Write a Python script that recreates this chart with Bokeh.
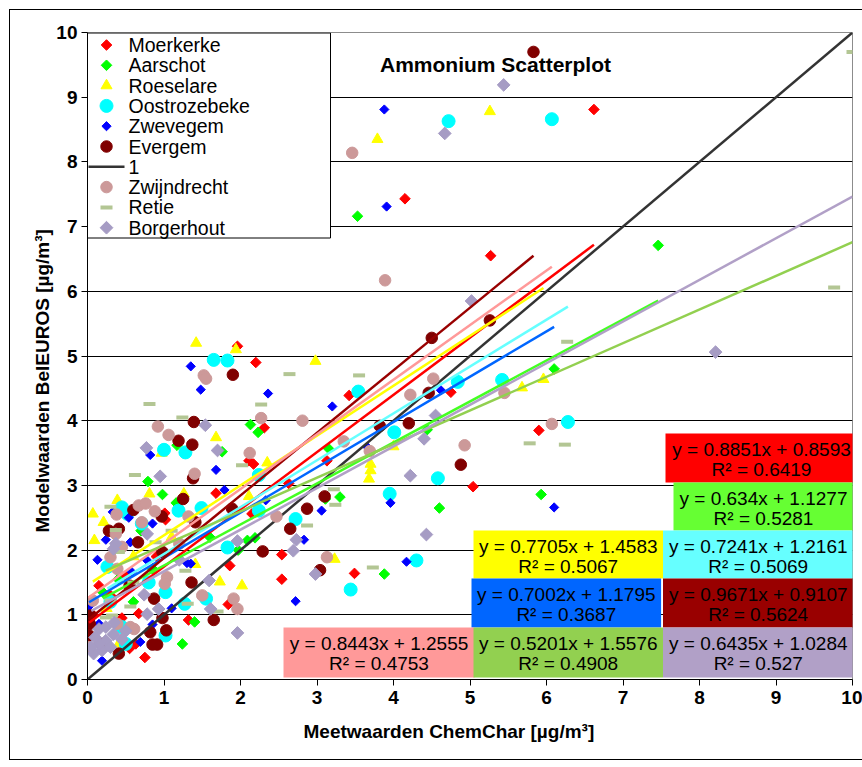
import numpy as np
from bokeh.plotting import figure
from bokeh.models import (Range1d, Label, FixedTicker, Title, ColumnDataSource,
                          InlineStyleSheet)
from bokeh.core.properties import value
from bokeh.embed import file_html
from bokeh.resources import INLINE

# ---------------- data ----------------
series_names = ["Moerkerke", "Aarschot", "Roeselare", "Oostrozebeke", "Zwevegem",
                "Evergem", "Zwijndrecht", "Retie", "Borgerhout"]
identity_name = "1"

moerkerke_x = [6.62, 4.15, 5.27, 1.96, 2.20, 4.75, 3.42, 2.31, 5.90, 2.11, 2.17, 3.13, 5.04, 1.68,
               2.63, 1.01, 2.15, 2.54, 1.86, 2.54, 3.49, 1.84, 1.32, 0.67, 0.63, 0.75, 0.02, 0.07,
               0.55, 1.02, 0.30, 0.50, 0.15, 0.90, 0.45]
moerkerke_y = [8.81, 7.43, 6.55, 5.15, 4.90, 4.44, 4.39, 3.89, 3.85, 3.38, 3.33, 3.38, 2.98, 2.88,
               3.03, 2.57, 2.56, 1.93, 1.76, 1.55, 1.64, 1.16, 0.92, 1.02, 0.55, 0.34, 0.91, 1.00,
               0.48, 2.47, 1.30, 1.60, 1.45, 1.90, 0.95]

aarschot_x = [3.53, 7.46, 6.10, 4.44, 5.93, 4.60, 3.15, 3.30, 3.88, 2.13, 2.23, 1.76, 1.17, 0.79,
              0.98, 1.16, 2.19, 2.09, 1.97, 0.85, 1.40, 1.24, 3.11, 0.40, 0.60, 0.20, 1.60, 0.70]
aarschot_y = [7.16, 6.71, 4.80, 3.86, 2.86, 2.65, 3.57, 2.82, 1.63, 3.94, 3.82, 3.52, 3.62, 3.06,
              2.86, 2.73, 2.19, 2.15, 2.00, 1.71, 0.89, 0.55, 2.79, 1.55, 1.20, 1.35, 2.20, 2.30]

roeselare_x = [5.26, 3.79, 1.42, 2.98, 1.94, 1.68, 0.97, 2.35, 4.00, 3.70, 3.70, 3.68, 5.96, 5.68,
               0.81, 0.39, 1.26, 0.07, 0.21, 0.09, 2.11, 1.73, 2.02, 1.41, 3.23, 0.41, 0.60, 0.25, 1.10]
roeselare_y = [8.78, 8.35, 5.20, 4.92, 5.10, 3.74, 3.50, 3.35, 3.60, 3.33, 3.23, 3.10, 4.64, 4.51,
               2.87, 2.77, 2.87, 2.56, 2.43, 2.15, 2.83, 1.51, 1.45, 1.78, 1.86, 0.55, 1.90, 1.10, 2.20]

oostrozebeke_x = [4.72, 6.07, 1.65, 1.83, 1.00, 1.28, 5.42, 4.84, 3.54, 4.01, 4.58, 6.28, 3.95, 4.30,
                  3.44, 2.24, 2.24, 2.72, 1.19, 1.49, 1.83, 1.55, 1.02, 1.27, 0.45, 0.52, 0.71, 0.26,
                  0.45, 1.02, 0.50, 0.80, 0.30]
oostrozebeke_y = [8.63, 8.66, 4.94, 4.93, 3.55, 3.51, 4.63, 4.60, 4.45, 3.82, 3.11, 3.98, 2.87, 1.84,
                  1.39, 3.16, 2.61, 2.48, 2.61, 2.65, 2.04, 1.25, 1.35, 1.17, 2.66, 2.56, 2.41, 1.74,
                  0.81, 0.68, 0.55, 1.50, 1.20]

zwevegem_x = [3.88, 3.91, 1.35, 1.48, 2.36, 3.20, 0.82, 1.68, 4.62, 3.66, 3.96, 3.06, 4.17, 6.10,
              2.72, 2.83, 1.79, 2.33, 1.35, 0.33, 0.54, 0.85, 0.24, 0.56, 0.13, 0.78, 0.58, 1.30,
              0.02, 0.15, 0.85, 0.69, 0.19, 1.10]
zwevegem_y = [8.81, 7.31, 4.84, 4.48, 4.42, 4.22, 3.47, 3.24, 4.47, 3.59, 2.73, 2.61, 1.82, 2.66,
              1.21, 2.16, 2.93, 2.77, 1.79, 2.59, 2.50, 2.41, 2.16, 2.12, 1.85, 1.84, 1.66, 1.80,
              1.13, 0.86, 0.85, 0.58, 0.29, 1.10]

evergem_x = [5.83, 5.26, 4.50, 4.46, 4.20, 3.82, 4.88, 3.10, 1.90, 1.39, 1.19, 1.37, 1.38, 2.87,
             2.65, 2.29, 3.04, 1.65, 1.36, 1.25, 0.60, 0.97, 1.41, 0.28, 0.41, 0.66, 0.98, 0.87,
             0.98, 0.04, 0.03, 0.82, 1.03, 0.85, 0.91, 0.41, 0.02, 1.89, 0.20, 0.55]
evergem_y = [9.70, 5.55, 5.28, 4.43, 3.96, 3.92, 3.32, 2.83, 4.71, 3.98, 3.69, 3.63, 3.11, 2.64,
             2.33, 1.98, 1.69, 0.92, 1.50, 2.79, 2.62, 2.52, 2.43, 2.30, 2.33, 2.12, 1.97, 1.25,
             0.95, 0.99, 0.86, 0.73, 0.76, 0.54, 0.54, 0.40, 0.68, 2.64, 0.55, 1.45]

zwijndrecht_x = [3.46, 3.89, 1.52, 1.55, 0.92, 1.06, 1.40, 2.27, 2.81, 2.12, 4.52, 4.22, 5.45, 3.35,
                 4.93, 3.69, 6.07, 3.13, 2.47, 0.67, 0.76, 0.38, 0.88, 1.32, 0.71, 0.37, 0.45, 0.30,
                 0.39, 1.04, 1.01, 1.50, 0.07, 1.91, 1.96, 0.39, 0.56, 0.61, 0.01, 1.20]
zwijndrecht_y = [8.14, 6.17, 4.70, 4.65, 3.91, 3.78, 3.18, 4.04, 4.00, 3.50, 4.65, 4.40, 4.43, 3.68,
                 3.62, 3.53, 3.95, 1.89, 2.52, 2.69, 2.72, 2.55, 2.60, 2.52, 2.43, 2.25, 2.05, 1.89,
                 1.71, 1.58, 1.48, 1.30, 1.22, 1.25, 1.09, 0.86, 0.81, 0.78, 0.50, 2.10]

retie_x = [10.0, 9.76, 6.27, 3.55, 5.78, 6.24, 2.64, 2.27, 0.81, 1.24, 0.62, 2.02, 3.22, 3.24,
           2.87, 3.73, 1.70, 1.31, 1.28, 0.30, 0.37, 0.41, 0.89, 0.56, 0.32, 0.24, 0.30, 1.10, 0.60]
retie_y = [9.70, 6.06, 5.22, 4.70, 3.65, 3.63, 4.72, 4.25, 4.26, 4.05, 3.16, 3.31, 2.94, 2.70,
           2.38, 1.73, 1.05, 1.17, 1.68, 2.67, 2.31, 1.97, 2.12, 1.13, 0.99, 0.96, 1.22, 2.30, 1.50]

borgerhout_x = [5.44, 4.67, 5.02, 8.21, 4.55, 4.40, 4.22, 4.43, 1.54, 0.77, 0.95, 1.70, 2.73, 1.96,
                2.69, 1.59, 2.98, 1.61, 1.96, 0.78, 0.37, 0.34, 0.74, 0.93, 0.78, 0.15, 0.24, 0.34,
                0.24, 0.08, 0.19, 0.15, 0.30, 0.10, 0.35, 0.45, 0.50, 0.05, 1.20]
borgerhout_y = [9.19, 8.44, 5.85, 5.06, 4.08, 3.72, 3.15, 2.24, 3.93, 3.58, 3.14, 3.54, 2.16, 2.14,
                1.99, 1.53, 1.63, 1.09, 0.72, 2.25, 2.10, 2.02, 1.31, 1.09, 1.01, 0.78, 0.81, 0.70,
                0.60, 0.40, 0.45, 0.55, 0.50, 0.65, 0.88, 0.62, 0.75, 0.50, 1.85]

# trendline equations (as printed) and x-extent of each trendline
trend_slope = [0.8851, 0.634, 0.7705, 0.7241, 0.7002, 0.9671, 0.8443, 0.5201, 0.6435]
trend_intercept = [0.8593, 1.1277, 1.4583, 1.2161, 1.1795, 0.9107, 1.2555, 1.5576, 1.0284]
trend_r2 = [0.6419, 0.5281, 0.5067, 0.5069, 0.3687, 0.5624, 0.4753, 0.4908, 0.527]
trend_x_end = [6.62, 7.46, 5.96, 6.28, 6.10, 5.83, 6.07, 10.0, 10.0]

identity_x = [0, 10]
identity_y = [0, 10]

x_ticks = list(range(0, 11))
y_ticks = list(range(0, 11))

chart_title = "Ammonium Scatterplot"
x_title = "Meetwaarden ChemChar [\u00b5g/m\u00b3]"
y_title = "Modelwaarden BelEUROS [\u00b5g/m\u00b3]"

# ---------------- layout helpers ----------------
FL, FR, FT, FB = 87, 852, 32, 679
W, H = 862, 767


def dx(px):
    return (px - FL) / (FR - FL) * 10.0


def dy(py):
    return (FB - py) / (FB - FT) * 10.0


FONT = "Liberation Sans"

p = figure(width=W, height=H, x_range=Range1d(0, 10), y_range=Range1d(0, 10),
           output_backend="svg", toolbar_location=None,
           min_border_left=FL, min_border_right=W - FR, min_border_top=FT,
           min_border_bottom=H - FB)
p.background_fill_color = "white"
p.border_fill_color = "white"
p.outline_line_color = "#8c8c8c"
p.outline_line_width = 1

# outer chart frame: left, top and bottom edges only (the right edge lies off-page)
p.stylesheets = [InlineStyleSheet(css=(
    ":host::before { content: ''; position: absolute; left: 9px; top: 9px; "
    "width: 845px; height: 751px; border-left: 1px solid black; "
    "border-top: 1px solid black; border-bottom: 1px solid black; "
    "box-sizing: border-box; pointer-events: none; z-index: 5; }"
    ":host::after { content: ''; position: absolute; left: 853px; top: 9px; "
    "width: 9px; height: 751px; border-top: 1px solid black; "
    "border-bottom: 1px solid black; box-sizing: border-box; pointer-events: none; z-index: 5; }"))]

p.xgrid.visible = False
p.ygrid.ticker = FixedTicker(ticks=y_ticks[1:-1])
p.ygrid.grid_line_color = "black"
p.ygrid.grid_line_width = 1

for ax, ticks in ((p.xaxis[0], x_ticks), (p.yaxis[0], y_ticks)):
    ax.ticker = FixedTicker(ticks=ticks)
    ax.axis_line_color = "black"
    ax.axis_line_width = 1
    ax.major_tick_line_color = "black"
    ax.major_tick_out = 6
    ax.major_tick_in = 0
    ax.minor_tick_out = 0
    ax.minor_tick_in = 0
    ax.major_label_text_font = FONT
    ax.major_label_text_font_style = "bold"
    ax.major_label_text_font_size = "19px"
    ax.major_label_text_color = "black"
p.xaxis.major_label_standoff = 5
p.yaxis.major_label_standoff = 4

# axis titles (as side-panel titles for precise placement)
p.add_layout(Title(text=x_title, align="left", offset=303 - FL, vertical_align="middle",
                   standoff=26, text_font=FONT, text_font_style="bold",
                   text_font_size="19px", text_color="black"), "below")
p.add_layout(Title(text=y_title, align="left", offset=FB - 532, vertical_align="middle",
                   standoff=0, text_font=FONT, text_font_style="bold",
                   text_font_size="19px", text_color="black"), "left")

# ---------------- series ----------------
marker_style = [
    dict(marker="square", angle=np.pi / 4, size=7.5, fill_color="#FF0000", line_color="#FF0000"),
    dict(marker="square", angle=np.pi / 4, size=7.5, fill_color="#00FF00", line_color="#00FF00"),
    dict(marker="triangle", size=11, fill_color="#FFFF00", line_color="#FFFF00"),
    dict(marker="circle", size=13, fill_color="#00FFFF", line_color="#00FFFF"),
    dict(marker="square", angle=np.pi / 4, size=6.5, fill_color="#0000FF", line_color="#0000FF"),
    dict(marker="circle", size=11.5, fill_color="#800000", line_color="#800000"),
    dict(marker="circle", size=11.5, fill_color="#CC9999", line_color="#CC9999"),
    dict(marker="dash", size=12, line_color="#B3C694", line_width=4),
    dict(marker="square", angle=np.pi / 4, size=9, fill_color="#A69CC4", line_color="#A69CC4"),
]
trend_colors = ["#FF0000", "#44FF22", "#FFFF00", "#66FFFF", "#0066FF", "#990000",
                "#FF9999", "#92D050", "#B1A0C7"]
box_colors = ["#FF0000", "#66FF33", "#FFFF00", "#66FFFF", "#0066FF", "#990000",
              "#FF9999", "#92D050", "#B1A0C7"]
identity_color = "#333333"

all_x = [moerkerke_x, aarschot_x, roeselare_x, oostrozebeke_x, zwevegem_x,
         evergem_x, zwijndrecht_x, retie_x, borgerhout_x]
all_y = [moerkerke_y, aarschot_y, roeselare_y, oostrozebeke_y, zwevegem_y,
         evergem_y, zwijndrecht_y, retie_y, borgerhout_y]

for i, name in enumerate(series_names):
    src = ColumnDataSource(dict(x=all_x[i], y=all_y[i]))
    p.scatter("x", "y", source=src, **marker_style[i])
    if name == "Evergem":
        p.line(identity_x, identity_y, line_color=identity_color, line_width=2.5)

# trendlines
for i, name in enumerate(series_names):
    xs = [min(all_x[i]), trend_x_end[i]]
    ys = [trend_slope[i] * v + trend_intercept[i] for v in xs]
    p.line(xs, ys, line_color=trend_colors[i], line_width=2.5)

# ---------------- equation boxes ----------------
box_px = [  # left, top, right, bottom in canvas pixels
    (665, 433, 857, 482),
    (673, 482, 853, 530),
    (473, 530, 662.5, 578),
    (662.5, 530, 853, 578),
    (471, 578, 660.6, 627),
    (662.5, 578, 853, 627),
    (283, 627, 474, 677),
    (473, 627, 662.5, 677),
    (662.5, 627, 853, 677),
]
qsrc = dict(left=[], right=[], top=[], bottom=[], color=[])
tsrc = dict(x=[], y=[], text=[])
for i in range(len(series_names)):
    l, t, r_, b = box_px[i]
    qsrc["left"].append(dx(l)); qsrc["right"].append(dx(r_))
    qsrc["top"].append(dy(t)); qsrc["bottom"].append(dy(b))
    qsrc["color"].append(box_colors[i])
    cx = dx((l + r_) / 2)
    tsrc["x"] += [cx, cx]
    tsrc["y"] += [dy(t + 16), dy(t + 36)]
    tsrc["text"] += [f"y = {trend_slope[i]}x + {trend_intercept[i]}",
                     f"R\u00b2 = {trend_r2[i]}"]
p.quad(left="left", right="right", top="top", bottom="bottom", fill_color="color",
       line_color=None, source=ColumnDataSource(qsrc))
p.text(x="x", y="y", text="text", source=ColumnDataSource(tsrc),
       text_font=value(FONT), text_font_size="19px", text_color="black",
       text_align="center", text_baseline="middle")

# ---------------- legend (drawn in plot coordinates) ----------------
LEG_L, LEG_T, LEG_R, LEG_B = 87, 32.5, 330, 237.5
ROW0, ROWH = 44.5, 20.3
p.quad(left=[dx(LEG_L)], right=[dx(LEG_R)], top=[dy(LEG_T)], bottom=[dy(LEG_B)],
       fill_color="white", line_color="black", line_width=1)
legend_order = series_names[:6] + [identity_name] + series_names[6:]
lab_x, lab_y, lab_t = [], [], []
for row, name in enumerate(legend_order):
    cy = dy(ROW0 + row * ROWH)
    if name == identity_name:
        p.line([dx(88), dx(124)], [cy, cy], line_color=identity_color, line_width=2.5)
    else:
        st = dict(marker_style[series_names.index(name)])
        p.scatter([dx(106)], [cy], **st)
    lab_x.append(dx(128)); lab_y.append(cy); lab_t.append(name)
p.text(x=lab_x, y=lab_y, text=lab_t, text_font=value(FONT), text_font_size="19.5px",
       text_color="black", text_align="left", text_baseline="middle")

# ---------------- chart title ----------------
p.add_layout(Label(x=dx(495), y=dy(64), text=chart_title, text_font=FONT,
                   text_font_style="bold", text_font_size="21px", text_align="center",
                   text_baseline="middle", text_color="black"))

open("out.html", "w").write(file_html(p, INLINE))
